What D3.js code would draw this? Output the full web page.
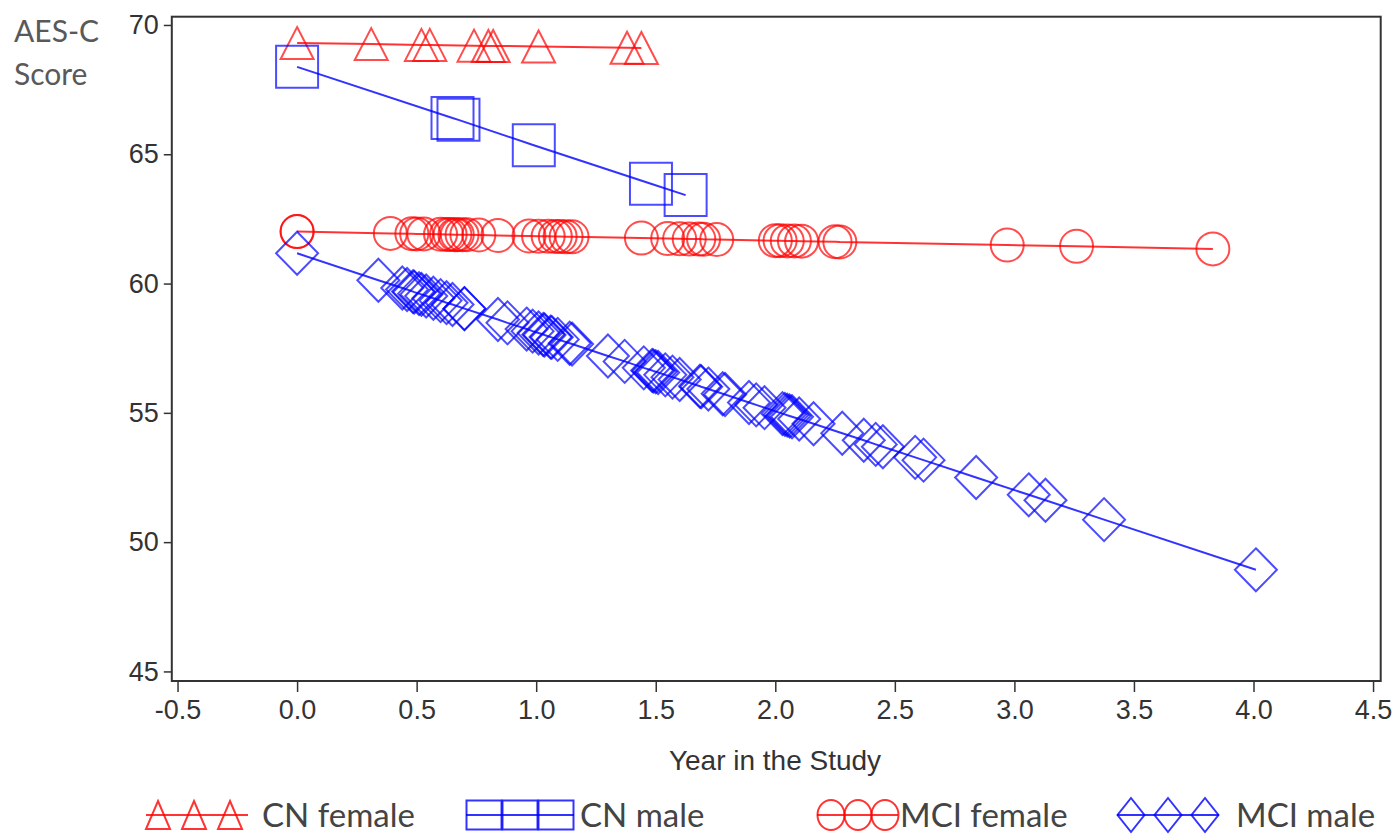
<!DOCTYPE html>
<html>
<head>
<meta charset="utf-8">
<script src="https://cdn.jsdelivr.net/npm/d3@7"></script>
<style>
  body { margin: 0; background: #fff; }
  .tick text { font-family: "Liberation Sans", Arial, sans-serif; font-size: 27px; fill: #333; }
  .tick line { stroke: #333; stroke-width: 1.5; }
</style>
</head>
<body>
<svg width="1397" height="836"></svg>
<script>
const cnFemaleX = [0, 0.31, 0.52, 0.555, 0.74, 0.80, 0.82, 1.01, 1.38, 1.44];
const cnFemaleY = [69.30, 69.26, 69.23, 69.23, 69.20, 69.19, 69.19, 69.17, 69.12, 69.11];

const cnMaleX = [0, 0.65, 0.675, 0.99, 1.48, 1.625];
const cnMaleY = [68.38, 66.40, 66.33, 65.35, 63.86, 63.42];

const mciFemaleX = [0, 0, 0.39, 0.48, 0.50, 0.53, 0.60, 0.625, 0.64, 0.66, 0.67, 0.69, 0.71, 0.76, 0.84,
  0.97, 1.01, 1.05, 1.08, 1.10, 1.125, 1.15, 1.44, 1.55, 1.60, 1.64, 1.68, 1.70, 1.755,
  2.00, 2.02, 2.05, 2.08, 2.11, 2.25, 2.27, 2.97, 3.26, 3.83];
const mciFemaleY = [62.01, 62.01, 61.94, 61.93, 61.92, 61.92, 61.91, 61.90, 61.90, 61.89, 61.89, 61.89, 61.89, 61.88, 61.86,
  61.84, 61.83, 61.83, 61.82, 61.82, 61.81, 61.81, 61.76, 61.74, 61.73, 61.72, 61.72, 61.71, 61.70,
  61.66, 61.66, 61.65, 61.65, 61.64, 61.62, 61.61, 61.49, 61.44, 61.34];

const mciMaleX = [0, 0.34, 0.44, 0.46, 0.485, 0.49, 0.51, 0.52, 0.54, 0.57, 0.60, 0.625, 0.65, 0.70, 0.70,
  0.84, 0.88, 0.96, 0.985, 1.01, 1.03, 1.035, 1.06, 1.065, 1.09, 1.14, 1.15,
  1.30, 1.37, 1.45, 1.485, 1.49, 1.50, 1.51, 1.54, 1.57, 1.60, 1.685, 1.69, 1.72, 1.78, 1.79,
  1.89, 1.92, 1.955, 2.03, 2.04, 2.05, 2.06, 2.07, 2.10, 2.16, 2.28, 2.37, 2.42, 2.45,
  2.585, 2.62, 2.84, 3.06, 3.13, 3.375, 4.01];
const mciMaleY = [61.17, 60.13, 59.83, 59.77, 59.69, 59.67, 59.61, 59.58, 59.52, 59.43, 59.34, 59.26, 59.19, 59.03, 59.03,
  58.61, 58.48, 58.24, 58.16, 58.09, 58.03, 58.01, 57.93, 57.92, 57.84, 57.69, 57.66,
  57.20, 56.99, 56.74, 56.64, 56.62, 56.59, 56.56, 56.47, 56.38, 56.29, 56.03, 56.01, 55.92, 55.74, 55.71,
  55.40, 55.31, 55.20, 54.97, 54.94, 54.91, 54.88, 54.85, 54.76, 54.58, 54.21, 53.94, 53.78, 53.69,
  53.28, 53.17, 52.50, 51.83, 51.62, 50.87, 48.93];

const seriesNames = ["CN female", "CN male", "MCI female", "MCI male"];
const xTicks = [-0.5, 0, 0.5, 1, 1.5, 2, 2.5, 3, 3.5, 4, 4.5];
const yTicks = [45, 50, 55, 60, 65, 70];

const svg = d3.select('svg');

const x = d3.scaleLinear().domain([-0.524, 4.532]).range([171.8, 1380.7]);
const y = d3.scaleLinear().domain([44.63, 70.32]).range([681, 16.7]);

const red = '#ff0000', blue = '#0000ff';

// marker path generators, centred on 0,0
const shapes = {
  triangle: (w, h) => `M0,${-h / 2}L${w / 2},${h / 2}L${-w / 2},${h / 2}Z`,
  square: (w, h) => `M${-w / 2},${-h / 2}h${w}v${h}h${-w}Z`,
  circle: (w, h) => `M${-w / 2},0a${w / 2},${h / 2} 0 1,0 ${w},0a${w / 2},${h / 2} 0 1,0 ${-w},0Z`,
  diamond: (w, h) => `M0,${-h / 2}L${w / 2},0L0,${h / 2}L${-w / 2},0Z`
};

const series = [
  { name: seriesNames[0], xs: cnFemaleX, ys: cnFemaleY, color: red, shape: 'triangle', w: 33, h: 32 },
  { name: seriesNames[1], xs: cnMaleX, ys: cnMaleY, color: blue, shape: 'square', w: 42, h: 42 },
  { name: seriesNames[2], xs: mciFemaleX, ys: mciFemaleY, color: red, shape: 'circle', w: 33, h: 33 },
  { name: seriesNames[3], xs: mciMaleX, ys: mciMaleY, color: blue, shape: 'diamond', w: 42, h: 43 }
];

// frame
svg.append('rect')
  .attr('x', x.range()[0]).attr('y', y.range()[1])
  .attr('width', x.range()[1] - x.range()[0])
  .attr('height', y.range()[0] - y.range()[1])
  .attr('fill', 'none').attr('stroke', '#333').attr('stroke-width', 2);

// axes
const yAxis = svg.append('g')
  .attr('transform', `translate(${x.range()[0]},0)`)
  .call(d3.axisLeft(y).tickValues(yTicks).tickSize(8).tickPadding(5).tickFormat(d3.format('d')));
yAxis.select('.domain').remove();

const xAxis = svg.append('g')
  .attr('transform', `translate(0,${y.range()[0]})`)
  .call(d3.axisBottom(x).tickValues(xTicks).tickSize(11).tickPadding(8).tickFormat(d => d.toFixed(1)));
xAxis.select('.domain').remove();

// axis titles
svg.append('text')
  .attr('x', 775).attr('y', 770)
  .attr('text-anchor', 'middle')
  .style('font-family', '"Liberation Sans", Arial, sans-serif')
  .style('font-size', '28px').style('fill', '#333')
  .text('Year in the Study');

svg.selectAll('.ylab')
  .data(['AES-C', 'Score'])
  .enter().append('text')
  .attr('x', 14).attr('y', (d, i) => 42 + i * 43)
  .style('font-family', 'Lato, "Open Sans", sans-serif')
  .style('font-size', '30px').style('fill', '#595959')
  .text(d => d);

// series: fitted line + hollow markers
const line = d3.line().x(d => x(d[0])).y(d => y(d[1]));

series.forEach(s => {
  const pts = s.xs.map((v, i) => [v, s.ys[i]]);
  const g = svg.append('g').attr('stroke', s.color).attr('fill', 'none');
  g.append('path')
    .datum(pts.slice().sort((a, b) => a[0] - b[0]))
    .attr('d', line)
    .attr('stroke-width', 2).attr('stroke-opacity', 0.8);
  g.selectAll('.m')
    .data(pts)
    .enter().append('path')
    .attr('transform', d => `translate(${x(d[0])},${y(d[1])})`)
    .attr('d', shapes[s.shape](s.w, s.h))
    .attr('stroke-width', 2).attr('stroke-opacity', 0.7);
});

// legend
const legendItems = [
  { shape: 'triangle', color: red, w: 24, h: 28, centres: [158, 194, 230], lineX: [146, 248], textX: 262 },
  { shape: 'square', color: blue, w: 35, h: 29, centres: [484, 520, 556], lineX: [466, 574], textX: 580 },
  { shape: 'circle', color: red, w: 27, h: 30, centres: [831, 858, 885], lineX: [817, 898], textX: 900 },
  { shape: 'diamond', color: blue, w: 27, h: 34, centres: [1131, 1168, 1205], lineX: [1117, 1219], textX: 1236 }
];
const legendY = 815;

const lg = svg.append('g');
legendItems.forEach((it, i) => {
  const g = lg.append('g').attr('stroke', it.color).attr('fill', 'none').attr('stroke-width', 2).attr('stroke-opacity', 0.8);
  g.append('line')
    .attr('x1', it.lineX[0]).attr('x2', it.lineX[1])
    .attr('y1', legendY).attr('y2', legendY);
  g.selectAll('path')
    .data(it.centres)
    .enter().append('path')
    .attr('transform', d => `translate(${d},${legendY})`)
    .attr('d', shapes[it.shape](it.w, it.h));
  lg.append('text')
    .attr('x', it.textX).attr('y', legendY + 12)
    .style('font-family', 'Lato, "Open Sans", sans-serif')
    .style('font-size', '33px').style('fill', '#444')
    .text(seriesNames[i]);
});
</script>
</body>
</html>
